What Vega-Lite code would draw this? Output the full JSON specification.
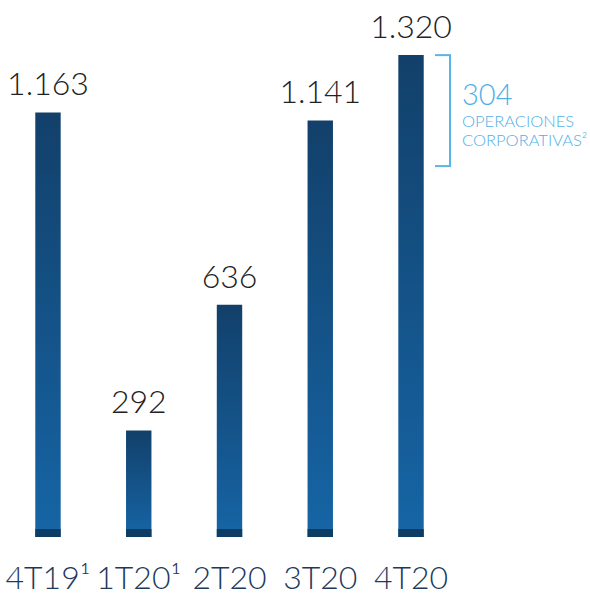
{
  "$schema": "https://vega.github.io/schema/vega-lite/v6.json",
  "width": 590,
  "height": 537,
  "autosize": {"type": "none"},
  "padding": {"left": 0, "top": 0, "right": 0, "bottom": 57},
  "background": "white",
  "config": {"view": {"stroke": null}, "font": "Lato"},
  "datasets": {
    "bars": [
      {"periodo": "4T19¹", "valor": 1163, "etiqueta": "1.163"},
      {"periodo": "1T20¹", "valor": 292, "etiqueta": "292"},
      {"periodo": "2T20", "valor": 636, "etiqueta": "636"},
      {"periodo": "3T20", "valor": 1141, "etiqueta": "1.141"},
      {"periodo": "4T20", "valor": 1320, "etiqueta": "1.320"}
    ],
    "corp": [
      {"periodo": "4T20", "base": 1016, "total": 1320, "cifra": "304", "linea1": "OPERACIONES", "linea2": "CORPORATIVAS²"}
    ]
  },
  "data": {"name": "bars"},
  "encoding": {
    "x": {
      "field": "periodo",
      "type": "nominal",
      "sort": null,
      "scale": {"range": [2.6, 456.4], "paddingInner": 0.72, "paddingOuter": 0.36},
      "axis": {
        "title": null,
        "labelAngle": 0,
        "labelFontSize": 32,
        "labelFont": "Lato",
        "labelFontWeight": 300,
        "labelColor": "#1d3a5c",
        "ticks": false,
        "domain": false,
        "grid": false,
        "labelPadding": 51,
        "labelBaseline": "alphabetic"
      }
    }
  },
  "layer": [
    {
      "mark": {
        "type": "bar",
        "color": {
          "gradient": "linear",
          "x1": 0, "y1": 0, "x2": 0, "y2": 1,
          "stops": [
            {"offset": 0, "color": "#12406a"},
            {"offset": 1, "color": "#1665a6"}
          ]
        }
      },
      "encoding": {
        "y": {"field": "valor", "type": "quantitative", "scale": {"domain": [0, 1471], "nice": false}, "axis": null}
      }
    },
    {
      "mark": {"type": "bar", "color": "#0f3c62", "yOffset": -8},
      "encoding": {
        "y": {"datum": 0, "type": "quantitative"}
      }
    },
    {
      "mark": {"type": "text", "fontSize": 32, "fontWeight": 300, "color": "#222222", "baseline": "alphabetic", "dy": -17},
      "encoding": {
        "y": {"field": "valor", "type": "quantitative"},
        "text": {"field": "etiqueta"}
      }
    },
    {
      "data": {"name": "corp"},
      "layer": [
        {
          "mark": {"type": "rule", "color": "#5ab4e8", "strokeWidth": 2, "xOffset": 39},
          "encoding": {
            "y": {"field": "base", "type": "quantitative"},
            "y2": {"field": "total"}
          }
        },
        {
          "mark": {"type": "rule", "color": "#5ab4e8", "strokeWidth": 2, "xOffset": 24, "x2Offset": 40},
          "encoding": {
            "x2": {"field": "periodo"},
            "y": {"field": "total", "type": "quantitative"}
          }
        },
        {
          "mark": {"type": "rule", "color": "#5ab4e8", "strokeWidth": 2, "xOffset": 24, "x2Offset": 40},
          "encoding": {
            "x2": {"field": "periodo"},
            "y": {"field": "base", "type": "quantitative"}
          }
        },
        {
          "mark": {"type": "text", "fontSize": 29, "fontWeight": 300, "color": "#4fb0e8", "align": "left", "baseline": "alphabetic", "dx": 51, "dy": 50},
          "encoding": {
            "y": {"field": "total", "type": "quantitative"},
            "text": {"field": "cifra"}
          }
        },
        {
          "mark": {"type": "text", "fontSize": 16.5, "fontWeight": 300, "color": "#4fb0e8", "align": "left", "baseline": "alphabetic", "dx": 51, "dy": 72},
          "encoding": {
            "y": {"field": "total", "type": "quantitative"},
            "text": {"field": "linea1"}
          }
        },
        {
          "mark": {"type": "text", "fontSize": 16.5, "fontWeight": 300, "color": "#4fb0e8", "align": "left", "baseline": "alphabetic", "dx": 51, "dy": 91},
          "encoding": {
            "y": {"field": "total", "type": "quantitative"},
            "text": {"field": "linea2"}
          }
        }
      ]
    }
  ]
}
